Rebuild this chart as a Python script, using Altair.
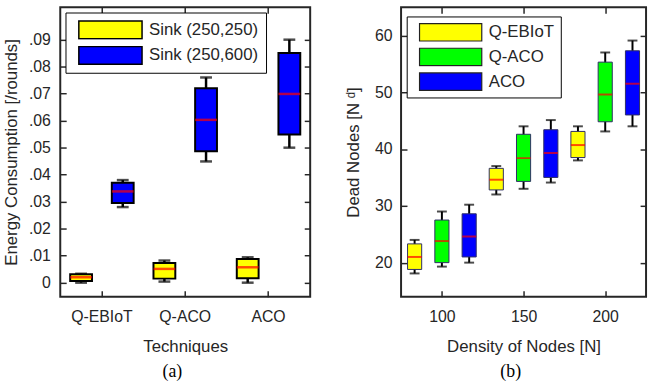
import altair as alt
import pandas as pd

# ---------------- panel (a): energy consumption ----------------
techs_a = ["Q-EBIoT", "Q-ACO", "ACO"]
sinks = ["Sink (250,250)", "Sink (250,600)"]
sink_colors = ["#ffff00", "#0000ff"]
a_min = [[0.0000, 0.0004, 0.0000], [0.0280, 0.0449, 0.0500]]
a_q1 = [[0.0006, 0.0015, 0.0016], [0.0295, 0.0487, 0.0549]]
a_med = [[0.0020, 0.0051, 0.0057], [0.0338, 0.0603, 0.0699]]
a_q3 = [[0.0031, 0.0073, 0.0088], [0.0370, 0.0720, 0.0851]]
a_max = [[0.0033, 0.0082, 0.0094], [0.0380, 0.0760, 0.0900]]
a_ticks = [0, 0.01, 0.02, 0.03, 0.04, 0.05, 0.06, 0.07, 0.08, 0.09]

# ---------------- panel (b): dead nodes ----------------
techs_b = ["Q-EBIoT", "Q-ACO", "ACO"]
tech_colors = ["#ffff00", "#00ff00", "#0000ff"]
b_pos = [[83.3, 133.3, 183.3], [100.0, 150.0, 200.0], [116.7, 166.7, 216.7]]
b_min = [[18.1, 32.0, 38.0], [19.3, 33.0, 43.1], [20.0, 34.1, 44.0]]
b_q1 = [[18.8, 32.8, 38.5], [20.0, 34.3, 44.8], [21.0, 35.0, 46.0]]
b_med = [[21.0, 34.6, 40.7], [23.8, 38.4, 49.6], [24.6, 39.3, 51.5]]
b_q3 = [[23.3, 36.6, 43.1], [27.5, 42.6, 55.3], [28.6, 43.4, 57.3]]
b_max = [[24.0, 37.0, 44.0], [29.0, 44.0, 57.0], [30.2, 45.1, 59.1]]
b_xticks = [100, 150, 200]
b_yticks = [20, 30, 40, 50, 60]

rows_a = []
for s, sink in enumerate(sinks):
    for t, tech in enumerate(techs_a):
        rows_a.append(dict(tech=tech, sink=sink, lo=a_min[s][t], q1=a_q1[s][t],
                           med=a_med[s][t], q3=a_q3[s][t], hi=a_max[s][t]))
df_a = pd.DataFrame(rows_a)

rows_b = []
for t, tech in enumerate(techs_b):
    for g in range(3):
        rows_b.append(dict(tech=tech, pos=b_pos[t][g], lo=b_min[t][g], q1=b_q1[t][g],
                           med=b_med[t][g], q3=b_q3[t][g], hi=b_max[t][g]))
df_b = pd.DataFrame(rows_b)

FONT = "Liberation Sans"
INK = "#262626"
RECT = "M-1,-0.28H1V0.28H-1Z"

def mirror_axis(orient, values=None):
    kw = dict(orient=orient, offset=-6, tickSize=6, labels=False, domain=False,
              grid=False, title=None, tickColor=INK, tickWidth=1.5)
    if values is not None:
        kw["values"] = values
    return alt.Axis(**kw)

# ---------- left chart ----------
xa_scale = alt.Scale(paddingInner=0, paddingOuter=0)
xoff = alt.XOffset("sink:N", sort=sinks,
                   scale=alt.Scale(paddingInner=0.476, paddingOuter=0.238))
ya_scale = alt.Scale(domain=[-0.0052, 0.102], nice=False, zero=False, padding=0)

xa_axis = alt.Axis(orient="bottom", offset=-6, tickSize=6, domain=False, grid=False,
                   labelAngle=0, labelPadding=12, labelFont=FONT, labelFontSize=16,
                   labelColor=INK, title="Techniques", titleFont=FONT, titleFontSize=17,
                   titleFontWeight="normal", titleColor=INK, titlePadding=14,
                   tickColor=INK, tickWidth=1.5)
ya_axis = alt.Axis(orient="left", offset=-6, tickSize=6, domain=False, grid=False,
                   values=a_ticks,
                   labelExpr="datum.value == 0 ? '0' : substring(format(datum.value, '.2f'), 1)",
                   labelPadding=10, labelFont=FONT, labelFontSize=16, labelColor=INK,
                   title="Energy Consumption [/rounds]", titleFont=FONT, titleFontSize=17,
                   titleFontWeight="normal", titleColor=INK, titlePadding=8,
                   tickColor=INK, tickWidth=1.5)

base_a = alt.Chart(df_a)
whisk_a = base_a.mark_rule(color="black", strokeWidth=2.5).encode(
    x=alt.X("tech:N", sort=techs_a, scale=xa_scale, axis=xa_axis),
    xOffset=xoff,
    y=alt.Y("lo:Q", scale=ya_scale, axis=ya_axis),
    y2="hi:Q",
)
box_a = base_a.mark_bar(stroke="black", strokeWidth=2).encode(
    x=alt.X("tech:N", sort=techs_a, scale=xa_scale, axis=mirror_axis("top")),
    xOffset=xoff,
    y=alt.Y("q1:Q", scale=ya_scale, axis=mirror_axis("right", a_ticks)),
    y2="q3:Q",
    color=alt.Color("sink:N", sort=sinks,
                    scale=alt.Scale(domain=sinks, range=sink_colors),
                    legend=alt.Legend(orient="none", legendX=5.3, legendY=5.3, title=None,
                                      symbolType=RECT, symbolSize=4096,
                                      symbolStrokeColor="black", symbolStrokeWidth=1.5,
                                      symbolOpacity=1, clipHeight=20, rowPadding=6,
                                      padding=7.5, symbolOffset=5, labelOffset=6,
                                      labelFont=FONT, labelFontSize=17, labelColor=INK,
                                      fillColor="white", strokeColor="black")),
)
cap_lo_a = base_a.mark_tick(orient="horizontal", color="black", thickness=2.5, size=12).encode(
    x=alt.X("tech:N", sort=techs_a, scale=xa_scale, axis=None), xOffset=xoff,
    y=alt.Y("lo:Q", scale=ya_scale, axis=None))
cap_hi_a = base_a.mark_tick(orient="horizontal", color="black", thickness=2.5, size=12).encode(
    x=alt.X("tech:N", sort=techs_a, scale=xa_scale, axis=None), xOffset=xoff,
    y=alt.Y("hi:Q", scale=ya_scale, axis=None))
med_a = base_a.mark_tick(orient="horizontal", color="#ff0000", thickness=2.5, size=22).encode(
    x=alt.X("tech:N", sort=techs_a, scale=xa_scale, axis=None), xOffset=xoff,
    y=alt.Y("med:Q", scale=ya_scale, axis=None))

left = alt.layer(whisk_a, box_a, cap_lo_a, cap_hi_a, med_a).properties(
    width=253, height=293,
    title=alt.TitleParams(text="(a)", orient="bottom", font="Liberation Serif", fontSize=18,
                          fontWeight="normal", color="black", frame="group", dx=-13, offset=9),
)

# ---------- right chart ----------
xb_scale = alt.Scale(domain=[75, 225], nice=False, zero=False, padding=0)
yb_scale = alt.Scale(domain=[14, 64.96], nice=False, zero=False, padding=0)
xb_axis = alt.Axis(orient="bottom", offset=-6, tickSize=6, domain=False, grid=False,
                   values=b_xticks, labelPadding=12, labelFont=FONT, labelFontSize=16,
                   labelColor=INK, title="Density of Nodes [N]", titleFont=FONT,
                   titleFontSize=17, titleFontWeight="normal", titleColor=INK,
                   titlePadding=14, tickColor=INK, tickWidth=1.5)
yb_axis = alt.Axis(orient="left", offset=-6, tickSize=6, domain=False, grid=False,
                   values=b_yticks, labelPadding=9, labelFont=FONT, labelFontSize=16,
                   labelColor=INK, title="Dead Nodes [N ᵈ]", titleFont=FONT,
                   titleFontSize=17, titleFontWeight="normal", titleColor=INK,
                   titlePadding=12, tickColor=INK, tickWidth=1.5)

base_b = alt.Chart(df_b)
whisk_b = base_b.mark_rule(color="black", strokeWidth=2).encode(
    x=alt.X("pos:Q", scale=xb_scale, axis=xb_axis),
    y=alt.Y("lo:Q", scale=yb_scale, axis=yb_axis),
    y2="hi:Q",
)
box_b = base_b.mark_bar(size=14.3, stroke="#2e2e66", strokeWidth=1).encode(
    x=alt.X("pos:Q", scale=xb_scale, axis=mirror_axis("top", b_xticks)),
    y=alt.Y("q1:Q", scale=yb_scale, axis=mirror_axis("right", b_yticks)),
    y2="q3:Q",
    color=alt.Color("tech:N", sort=techs_b,
                    scale=alt.Scale(domain=techs_b, range=tech_colors),
                    legend=alt.Legend(orient="none", legendX=5.7, legendY=9.3, title=None,
                                      symbolType=RECT, symbolSize=3969,
                                      symbolStrokeColor="#222222", symbolStrokeWidth=1.2,
                                      symbolOpacity=1, clipHeight=20, rowPadding=5,
                                      padding=6, symbolOffset=6, labelOffset=6,
                                      labelFont=FONT, labelFontSize=17, labelColor=INK,
                                      fillColor="white", strokeColor="black")),
)
cap_lo_b = base_b.mark_tick(orient="horizontal", color="black", thickness=2, size=10).encode(
    x=alt.X("pos:Q", scale=xb_scale, axis=None), y=alt.Y("lo:Q", scale=yb_scale, axis=None))
cap_hi_b = base_b.mark_tick(orient="horizontal", color="black", thickness=2, size=10).encode(
    x=alt.X("pos:Q", scale=xb_scale, axis=None), y=alt.Y("hi:Q", scale=yb_scale, axis=None))
med_b = base_b.mark_tick(orient="horizontal", color="#ff0000", thickness=2, size=14.3).encode(
    x=alt.X("pos:Q", scale=xb_scale, axis=None), y=alt.Y("med:Q", scale=yb_scale, axis=None))

right = alt.layer(whisk_b, box_b, cap_lo_b, cap_hi_b, med_b).properties(
    width=248, height=293,
    title=alt.TitleParams(text="(b)", orient="bottom", font="Liberation Serif", fontSize=18,
                          fontWeight="normal", color="black", frame="group", dx=-13, offset=9),
)

chart = alt.hconcat(left, right, spacing=32).resolve_scale(
    color="independent").resolve_legend(color="independent").properties(
    padding={"left": 1, "top": 3, "right": 2, "bottom": 0},
    background="white",
).configure_view(stroke=INK, strokeWidth=2)

chart.save("out.html", embed_options={"renderer": "svg", "actions": False})
